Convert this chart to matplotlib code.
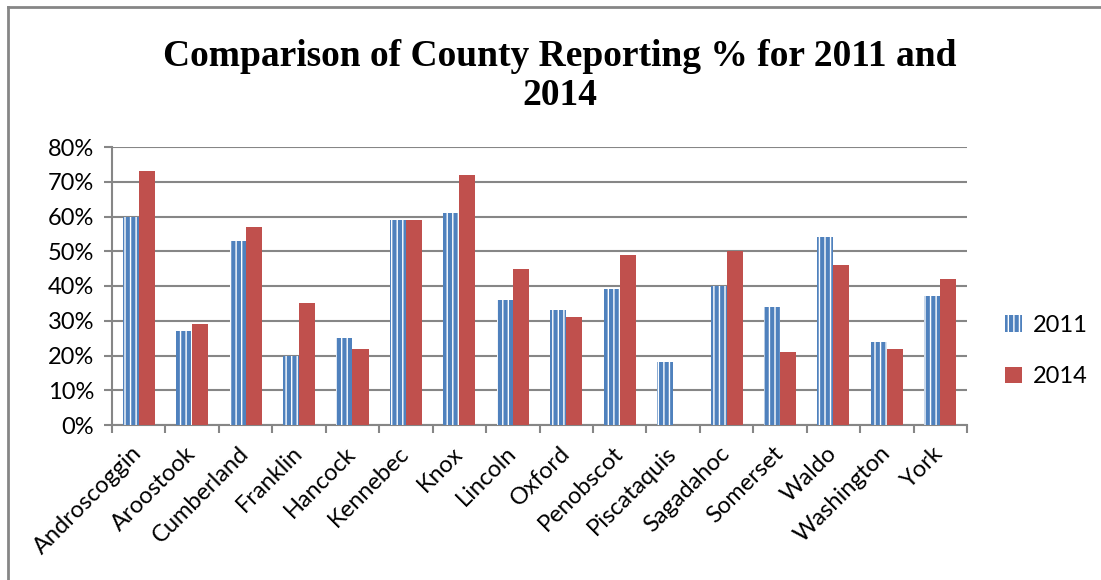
import numpy as np
import matplotlib
matplotlib.use('Agg')
import matplotlib.pyplot as plt
from matplotlib.lines import Line2D
from matplotlib.ticker import PercentFormatter

counties = ['Androscoggin', 'Aroostook', 'Cumberland', 'Franklin', 'Hancock',
            'Kennebec', 'Knox', 'Lincoln', 'Oxford', 'Penobscot', 'Piscataquis',
            'Sagadahoc', 'Somerset', 'Waldo', 'Washington', 'York']
pct_2011 = [60, 27, 53, 20, 25, 59, 61, 36, 33, 39, 18, 40, 34, 54, 24, 37]
pct_2014 = [73, 29, 57, 35, 22, 59, 72, 45, 31, 49, 0, 50, 21, 46, 22, 42]
yticks = [0, 10, 20, 30, 40, 50, 60, 70, 80]

blue = '#4F81BD'
red = '#C0504D'
grey = '#868686'

plt.rcParams['font.family'] = ['Lato', 'DejaVu Sans']
plt.rcParams['hatch.linewidth'] = 1.0
plt.rcParams['hatch.color'] = 'white'

fig = plt.figure(figsize=(11.01, 5.8), dpi=100)
ax = fig.add_axes([112/1101, 1 - 425/580, (967 - 112)/1101, (425 - 147)/580])

x = np.arange(len(counties)) + 0.5
w = 0.3
ax.bar(x - w, pct_2011, width=w, align='edge', color=blue, hatch='|||',
       edgecolor='white', linewidth=0, zorder=3, label='2011')
ax.bar(x, pct_2014, width=w, align='edge', color=red, linewidth=0,
       zorder=3, label='2014')

ax.set_xlim(0, len(counties))
ax.set_ylim(0, 80)
ax.set_yticks(yticks)
ax.yaxis.set_major_formatter(PercentFormatter(decimals=0))
ax.yaxis.grid(True, color=grey, linewidth=1.5, zorder=0)
ax.set_axisbelow(True)

ax.set_xticks(np.arange(len(counties) + 1))
ax.set_xticklabels([])
ax.set_xticks(x, minor=True)
ax.set_xticklabels(counties, minor=True, rotation=45, ha='right',
                   va='center', rotation_mode='anchor', fontsize=17)
ax.tick_params(axis='x', which='minor', length=0, pad=18)
ax.tick_params(axis='x', which='major', length=6, width=1.5, color=grey)
ax.tick_params(axis='y', length=6, width=1.5, color=grey, labelsize=17, pad=7)

for s in ['top', 'right']:
    ax.spines[s].set_visible(False)
for s in ['left', 'bottom']:
    ax.spines[s].set_color(grey)
    ax.spines[s].set_linewidth(1.5)

handles = [matplotlib.patches.Patch(facecolor=blue, hatch='|||', edgecolor='white', linewidth=0),
           matplotlib.patches.Patch(facecolor=red, linewidth=0)]
fig.legend(handles, ['2011', '2014'], loc='center left',
           bbox_to_anchor=(984/1101, 1 - 351/580), frameon=False,
           fontsize=17, handlelength=0.7, handleheight=0.7,
           handletextpad=0.45, labelspacing=1.3)

fig.text(560/1101, 1 - 39/580,
         'Comparison of County Reporting % for 2011 and\n2014',
         ha='center', va='top', family='Liberation Serif', weight='bold',
         fontsize=27, linespacing=1.15)

# outer chart border (top and left edges visible)
fig.add_artist(Line2D([8/1101, 1], [1 - 7/580, 1 - 7/580], color=grey,
                      linewidth=2, transform=fig.transFigure))
fig.add_artist(Line2D([8/1101, 8/1101], [0, 1 - 7/580], color=grey,
                      linewidth=2, transform=fig.transFigure))

fig.savefig('out.png', dpi=100)
